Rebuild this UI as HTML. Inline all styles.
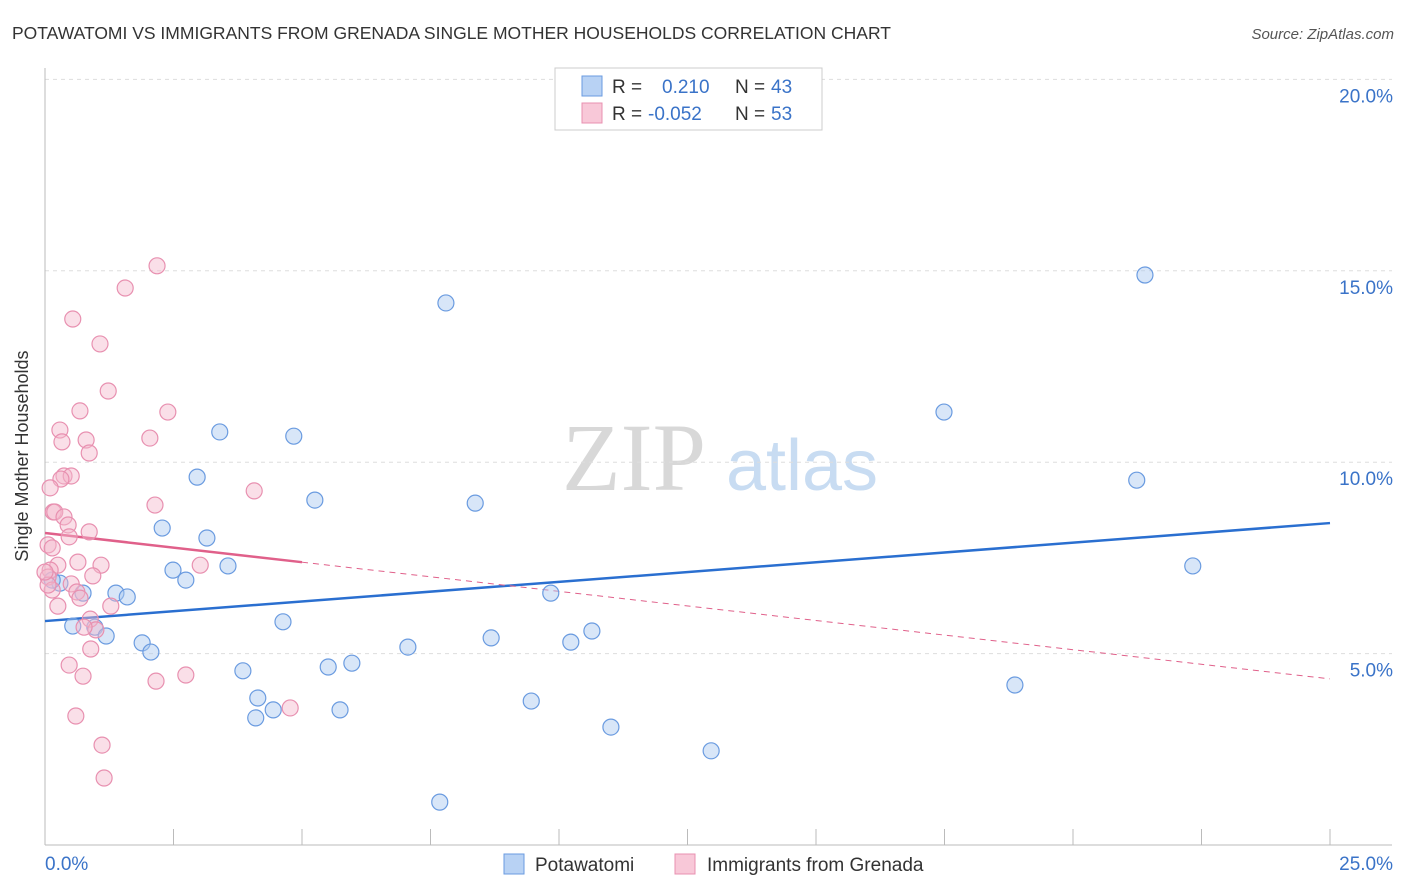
<!DOCTYPE html>
<html><head><meta charset="utf-8"><style>
body{margin:0;background:#fff;font-family:"Liberation Sans",sans-serif;}
svg{display:block}
</style></head><body>
<svg id="chart" width="1406" height="892">
<text x="12" y="39" font-size="17.5" fill="#333">POTAWATOMI VS IMMIGRANTS FROM GRENADA SINGLE MOTHER HOUSEHOLDS CORRELATION CHART</text>
<text x="1394" y="39" font-size="15" fill="#555" font-style="italic" text-anchor="end">Source: ZipAtlas.com</text>
<g>
<text x="634" y="490" font-size="96" fill="#d8d8d8" font-family="Liberation Serif,serif" text-anchor="middle">ZIP</text>
<text x="802" y="490" font-size="72" fill="#c8dcf2" text-anchor="middle">atlas</text>
</g>
<g id="grid"></g><g id="axes"></g><g id="trends"></g><g id="points"></g>
<text x="28" y="456" font-size="18" fill="#333" text-anchor="middle" transform="rotate(-90 28 456)">Single Mother Households</text>
<g>
<rect x="555" y="68" width="267" height="62" fill="#fff" stroke="#ccc"/>
<rect x="582" y="76" width="20" height="20" fill="#b8d2f4" stroke="#6a9be0"/>
<text x="612" y="93" font-size="19" fill="#333">R = </text><text x="662" y="93" font-size="19" fill="#3a73c8">0.210</text>
<text x="735" y="93" font-size="19" fill="#333">N = </text><text x="771" y="93" font-size="19" fill="#3a73c8">43</text>
<rect x="582" y="103" width="20" height="20" fill="#f8c8d8" stroke="#e890b0"/>
<text x="612" y="120" font-size="19" fill="#333">R = </text><text x="648" y="120" font-size="19" fill="#3a73c8">-0.052</text>
<text x="735" y="120" font-size="19" fill="#333">N = </text><text x="771" y="120" font-size="19" fill="#3a73c8">53</text>
</g>
<g>
<rect x="504" y="854" width="20" height="20" fill="#b8d2f4" stroke="#6a9be0"/>
<text x="535" y="871" font-size="19" fill="#333">Potawatomi</text>
<rect x="675" y="854" width="20" height="20" fill="#f8c8d8" stroke="#e890b0"/>
<text x="707" y="871" font-size="19" fill="#333">Immigrants from Grenada</text>
</g>
</svg>
<script>
const blueX=[21.40,7.80,17.49,3.40,4.84,21.24,2.96,5.25,8.37,2.28,3.15,3.56,2.49,2.74,22.33,1.38,1.60,0.74,9.84,0.29,0.14,4.63,0.54,0.97,1.19,1.89,2.06,8.68,10.23,10.64,7.06,5.97,5.51,3.85,18.87,4.14,9.46,4.44,5.74,4.10,11.01,12.96,7.68];
const blueY=[14.89,14.16,11.31,10.79,10.68,9.53,9.61,9.01,8.93,8.28,8.02,7.29,7.18,6.92,7.29,6.58,6.48,6.58,6.58,6.84,6.92,5.83,5.72,5.69,5.46,5.28,5.04,5.41,5.30,5.59,5.17,4.75,4.65,4.55,4.18,3.84,3.76,3.53,3.53,3.32,3.08,2.46,1.12];
const pinkX=[2.18,1.56,0.54,1.07,1.23,0.68,2.39,0.29,2.04,0.33,0.80,0.86,0.37,0.51,0.31,0.10,4.07,2.14,0.16,0.19,0.37,0.45,0.86,0.47,0.06,0.14,0.64,1.09,3.02,0.25,0.10,0.93,0.06,0.51,0.14,0.62,0.68,1.28,0.25,0.88,0.99,0.76,0.89,0.47,0.74,2.74,2.16,4.77,0.60,1.11,1.15,0.06,0.00];
const pinkY=[15.13,14.55,13.74,13.09,11.86,11.34,11.31,10.84,10.63,10.53,10.58,10.24,9.64,9.64,9.56,9.33,9.25,8.88,8.70,8.70,8.57,8.36,8.18,8.05,7.84,7.76,7.39,7.31,7.31,7.31,7.18,7.03,7.00,6.82,6.66,6.61,6.45,6.24,6.24,5.90,5.62,5.69,5.12,4.70,4.41,4.44,4.28,3.58,3.37,2.61,1.75,6.79,7.13];
const blueTrend=[5.85,8.41];
const pinkTrend=[8.15,4.34];
const pinkSolidEnd=5.0;
const yTicks=[5,10,15,20];
const yTickLabels=["5.0%","10.0%","15.0%","20.0%"];
const NS="http://www.w3.org/2000/svg";
const X=v=>45+v/25*1285, Y=v=>845-v/5*191.4;
function mk(p,t,a){const e=document.createElementNS(NS,t);for(const k in a)e.setAttribute(k,a[k]);p.appendChild(e);return e;}
const grid=document.getElementById('grid'),axes=document.getElementById('axes'),tr=document.getElementById('trends'),pts=document.getElementById('points');
yTicks.forEach((t,i)=>{
 const l=mk(grid,'line',{x1:45,x2:1392,y1:Y(t),y2:Y(t),stroke:'#ddd','stroke-dasharray':'4 4'});
 
 
 const tx=mk(axes,'text',{x:1393,y:Y(t)+23,'font-size':19,fill:'#3a73c8','text-anchor':'end'});tx.textContent=yTickLabels[i];
 
 
});
let a=mk(axes,'line',{x1:45,x2:45,y1:68,y2:845,stroke:'#bbb'});


a=mk(axes,'line',{x1:45,x2:1392,y1:845,y2:845,stroke:'#bbb'});


for(let i=0;i<=10;i++){const t=mk(axes,'line',{x1:X(i*2.5),x2:X(i*2.5),y1:829,y2:845,stroke:'#bbb'});
 
 }
let t0=mk(axes,'text',{x:45,y:870,'font-size':19,fill:'#3a73c8'});t0.textContent='0.0%';


t0=mk(axes,'text',{x:1393,y:870,'font-size':19,fill:'#3a73c8','text-anchor':'end'});t0.textContent='25.0%';


function dot(x,y,f,s,n){const c=mk(pts,'circle',{cx:X(x),cy:Y(y),r:8,fill:f,'fill-opacity':0.45,stroke:s,'stroke-width':1.2});
 
 }
blueX.forEach((x,i)=>dot(x,blueY[i],'#a8c8f0','#6a9be0','potawatomi-point'));
pinkX.forEach((x,i)=>dot(x,pinkY[i],'#f4b8cc','#e890b0','grenada-point'));
let l=mk(tr,'line',{x1:X(0),y1:Y(blueTrend[0]),x2:X(25),y2:Y(blueTrend[1]),stroke:'#2a6fd0','stroke-width':2.5});


const pm=pinkTrend[0]+(pinkTrend[1]-pinkTrend[0])*pinkSolidEnd/25;
l=mk(tr,'line',{x1:X(0),y1:Y(pinkTrend[0]),x2:X(pinkSolidEnd),y2:Y(pm),stroke:'#e0608a','stroke-width':2.5});


l=mk(tr,'line',{x1:X(pinkSolidEnd),y1:Y(pm),x2:X(25),y2:Y(pinkTrend[1]),stroke:'#e0608a','stroke-width':1,'stroke-dasharray':'6 5'});


</script>
</body></html>
